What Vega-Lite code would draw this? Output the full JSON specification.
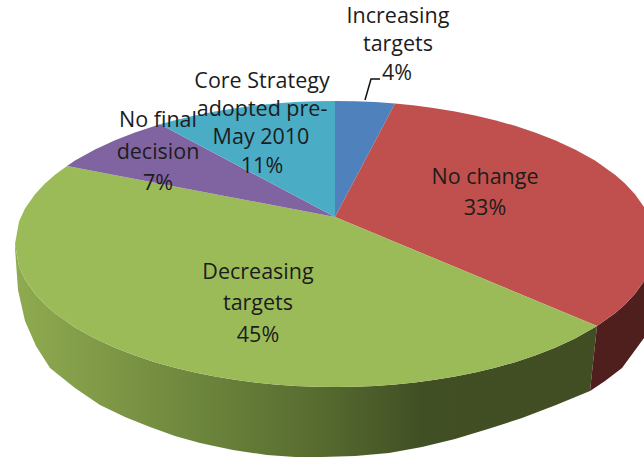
{
"$schema":"https://vega.github.io/schema/vega-lite/v6.json",
"width":644,"height":457,"padding":0,"autosize":"none","background":"white",
"config":{"view":{"stroke":null}},
"projection":{"type":"identity","reflectY":true,"scale":1,"translate":[335,217]},
"layer":[
{"data":{"values":[
{"type":"Feature","properties":{"slice":"Decreasing targets"},"geometry":{"type":"Polygon","coordinates":[[[262,-109],[240,-121.6],[220,-130.8],[200,-138.6],[180,-145.2],[160,-150.8],[140,-155.6],[120,-159.6],[100,-162.8],[80,-165.5],[60,-167.5],[40,-168.9],[20,-169.7],[0,-170],[-20,-169.7],[-40,-168.9],[-60,-167.5],[-80,-165.5],[-100,-162.8],[-120,-159.6],[-140,-155.6],[-160,-150.8],[-180,-145.2],[-200,-138.6],[-220,-130.8],[-240,-121.6],[-260,-110.4],[-280,-96.2],[-290,-87.5],[-300,-76.8],[-310,-62.5],[-316,-49.6],[-320,-27],[-320,-31],[-317,-73],[-310,-104],[-299,-129],[-285,-151],[-260,-171],[-235,-188],[-210,-200],[-185,-210],[-160,-219],[-135,-226],[-102,-233],[-68,-238],[-40,-240],[-13,-240],[20,-239],[54,-236],[87,-230],[120,-222],[153,-212],[187,-201],[221,-188],[255,-174],[262,-109]]]}}
]},
"mark":{"type":"geoshape","stroke":null,"fill":{"gradient":"linear","x1":0,"y1":0,"x2":1,"y2":0,"stops":[{"offset":0,"color":"#8fab50"},{"offset":0.15,"color":"#7f9947"},{"offset":0.32,"color":"#6c853c"},{"offset":0.53,"color":"#566a2f"},{"offset":0.7,"color":"#414f24"},{"offset":1,"color":"#414e24"}]}}},
{"data":{"values":[
{"type":"Feature","properties":{"slice":"No change"},"geometry":{"type":"Polygon","coordinates":[[[262,-109],[280,-96.2],[290,-87.5],[300,-76.8],[309,-64.2],[309,-121],[287,-151],[270,-164],[255,-174],[262,-109]]]}}
]},
"mark":{"type":"geoshape","stroke":null,"fill":"#4f1f1e"}},
{"data":{"values":[
{"type":"Feature","properties":{"slice":"Increasing targets"},"geometry":{"type":"Polygon","coordinates":[[[0,0],[0,116],[20,115.7],[40,114.9],[60,113.5],[0,0]]]}},
{"type":"Feature","properties":{"slice":"No change"},"geometry":{"type":"Polygon","coordinates":[[[0,0],[60,113.5],[80,111.5],[100,108.8],[120,105.6],[140,101.6],[160,96.8],[180,91.2],[200,84.6],[220,76.8],[240,67.6],[260,56.4],[280,42.2],[290,33.5],[300,22.8],[309,10],[309,-64.2],[300,-76.8],[290,-87.5],[280,-96.2],[262,-109],[0,0]]]}},
{"type":"Feature","properties":{"slice":"Decreasing targets"},"geometry":{"type":"Polygon","coordinates":[[[0,0],[262,-109],[240,-121.6],[220,-130.8],[200,-138.6],[180,-145.2],[160,-150.8],[140,-155.6],[120,-159.6],[100,-162.8],[80,-165.5],[60,-167.5],[40,-168.9],[20,-169.7],[0,-170],[-20,-169.7],[-40,-168.9],[-60,-167.5],[-80,-165.5],[-100,-162.8],[-120,-159.6],[-140,-155.6],[-160,-150.8],[-180,-145.2],[-200,-138.6],[-220,-130.8],[-240,-121.6],[-260,-110.4],[-280,-96.2],[-290,-87.5],[-300,-76.8],[-310,-62.5],[-316,-49.6],[-320,-27],[-316,-4.4],[-310,8.5],[-300,22.8],[-290,33.5],[-280,42.2],[-268,51],[0,0]]]}},
{"type":"Feature","properties":{"slice":"No final decision"},"geometry":{"type":"Polygon","coordinates":[[[0,0],[-268,51],[-260,56.4],[-240,67.6],[-220,76.8],[-200,84.6],[-175,92.7],[0,0]]]}},
{"type":"Feature","properties":{"slice":"Core Strategy adopted pre-May 2010"},"geometry":{"type":"Polygon","coordinates":[[[0,0],[-175,92.7],[-160,96.8],[-140,101.6],[-120,105.6],[-100,108.8],[-80,111.5],[-60,113.5],[-40,114.9],[-20,115.7],[0,116],[0,0]]]}}
]},
"mark":{"type":"geoshape","stroke":null},
"encoding":{"fill":{"field":"properties.slice","type":"nominal","legend":null,"scale":{"domain":["Increasing targets","No change","Decreasing targets","No final decision","Core Strategy adopted pre-May 2010"],"range":["#4f81bd","#c0504d","#9bbb59","#8064a2","#4bacc6"]}}}},
{"data":{"values":[
{"type":"Feature","properties":{"slice":"Increasing targets leader"},"geometry":{"type":"LineString","coordinates":[[30,117],[36,138],[45,138]]}}
]},
"mark":{"type":"geoshape","filled":false,"stroke":"#111111","strokeWidth":1.5}},
{"data":{"values":[
{"label":"Increasing","lon":63,"lat":200},
{"label":"targets","lon":63,"lat":172},
{"label":"4%","lon":62,"lat":143},
{"label":"No change","lon":150,"lat":39},
{"label":"33%","lon":150,"lat":8},
{"label":"Decreasing","lon":-77,"lat":-56},
{"label":"targets","lon":-77,"lat":-87},
{"label":"45%","lon":-77,"lat":-119},
{"label":"No final","lon":-177,"lat":96},
{"label":"decision","lon":-177,"lat":64},
{"label":"7%","lon":-177,"lat":33},
{"label":"Core Strategy","lon":-73,"lat":135},
{"label":"adopted pre-","lon":-73,"lat":107},
{"label":"May 2010","lon":-74,"lat":79},
{"label":"11%","lon":-73,"lat":50}
]},
"mark":{"type":"text","font":"Open Sans","fontSize":21.5,"align":"center","baseline":"middle","fill":"#1c1c1c"},
"encoding":{"longitude":{"field":"lon","type":"quantitative"},"latitude":{"field":"lat","type":"quantitative"},"text":{"field":"label"}}}
]
}
